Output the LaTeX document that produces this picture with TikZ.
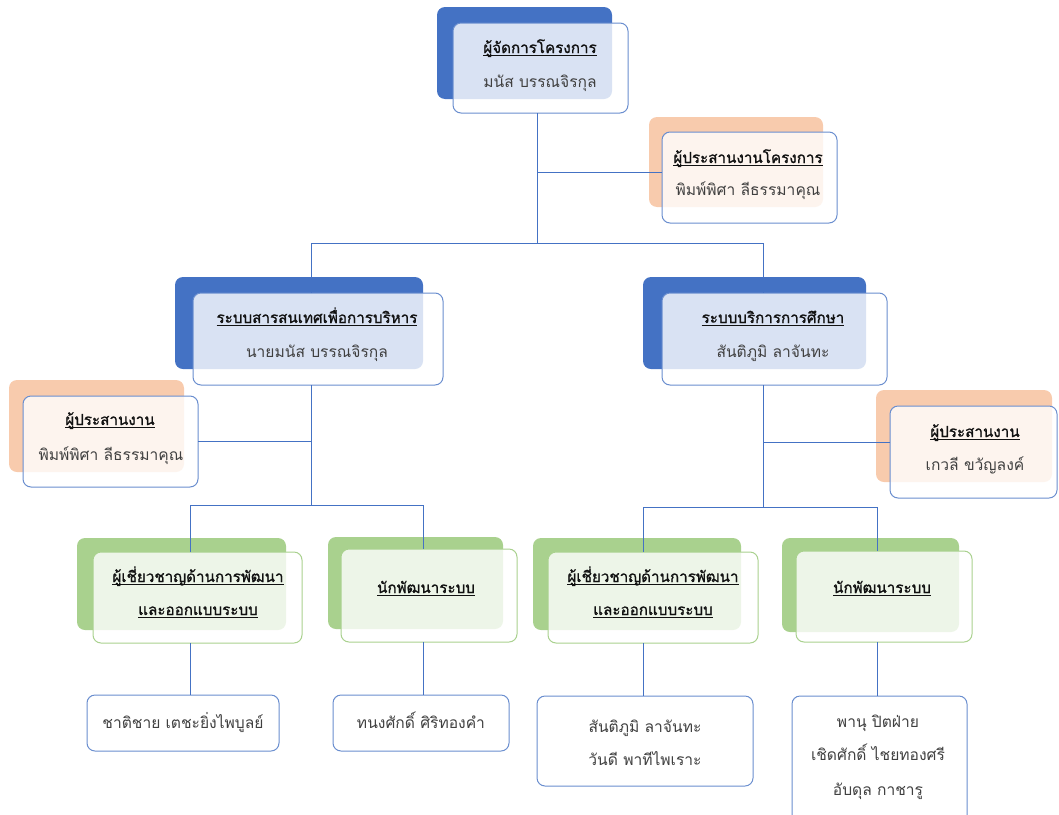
\documentclass[tikz,border=0pt]{standalone}
\usepackage{fontspec}
\newfontfamily\thai[Script=Thai]{Loma}
\newfontfamily\thaihead[Script=Thai,FakeBold=1.2]{Loma}
\definecolor{accent}{HTML}{4472C4}
\definecolor{rim}{HTML}{6A8ECF}
\definecolor{peach}{HTML}{F8CBAD}
\definecolor{leaf}{HTML}{A9D18E}
\definecolor{ink}{HTML}{404040}
\definecolor{head}{HTML}{111111}
% underline at a fixed depth below the baseline
\newcommand\thaiul[1]{\setbox0\hbox{#1}\rlap{\rule[-3pt]{\wd0}{0.9pt}}\box0}
\begin{document}
\begin{tikzpicture}[x=1pt,y=-1pt,
  card/.style={rounded corners=8pt, inner sep=0pt, outer sep=0pt, line width=1pt},
  backblue/.style={card, fill=accent},
  backpeach/.style={card, fill=peach},
  backleaf/.style={card, fill=leaf},
  front/.style={card, fill=white, fill opacity=0.8, draw opacity=1, draw=rim},
  frontleaf/.style={front, draw=leaf},
  plain/.style={card, fill=white, draw=rim},
  link/.style={draw=accent, line width=1pt},
  title/.style={anchor=base, inner sep=0pt, text=head, font=\thaihead\fontsize{15.2}{18}\selectfont},
  person/.style={anchor=base, inner sep=0pt, text=ink, font=\thai\fontsize{15.6}{18}\selectfont}
]
\clip (0,0) rectangle (1059,814);

% ---------- cards: solid back panel + translucent front panel ----------
\node[backblue,  minimum width=175pt, minimum height=92pt] (pm-b) at (524.5,53) {};
\node[front,     minimum width=175pt, minimum height=90pt] (pm)   at (540.5,68) {};

\node[backpeach, minimum width=174pt, minimum height=90pt] (pc-b) at (736,162) {};
\node[front,     minimum width=175pt, minimum height=91pt] (pc)   at (749.5,177.5) {};

\node[backblue,  minimum width=248pt, minimum height=92pt] (im-b) at (299,323) {};
\node[front,     minimum width=250pt, minimum height=92pt] (im)   at (318,339) {};

\node[backblue,  minimum width=223pt, minimum height=92pt] (es-b) at (754.5,323) {};
\node[front,     minimum width=225pt, minimum height=92pt] (es)   at (774.5,339) {};

\node[backpeach, minimum width=175pt, minimum height=92pt] (lc-b) at (96.5,426) {};
\node[front,     minimum width=175pt, minimum height=91pt] (lc)   at (110.5,441.5) {};

\node[backpeach, minimum width=176pt, minimum height=92pt] (rc-b) at (964,436) {};
\node[front,     minimum width=167pt, minimum height=92pt] (rc)   at (973.5,452) {};

\node[backleaf,  minimum width=209pt, minimum height=92pt] (gl1-b) at (181.5,584) {};
\node[frontleaf, minimum width=209pt, minimum height=91pt] (gl1)   at (197.5,597.5) {};

\node[backleaf,  minimum width=175pt, minimum height=92pt] (gl2-b) at (415.5,583) {};
\node[frontleaf, minimum width=176pt, minimum height=93pt] (gl2)   at (429,595.5) {};

\node[backleaf,  minimum width=208pt, minimum height=92pt] (gr1-b) at (637,584) {};
\node[frontleaf, minimum width=210pt, minimum height=91pt] (gr1)   at (653,597.5) {};

\node[backleaf,  minimum width=177pt, minimum height=94pt] (gr2-b) at (870.5,585) {};
\node[frontleaf, minimum width=176pt, minimum height=91pt] (gr2)   at (884,596.5) {};

% ---------- member boxes ----------
\node[plain, minimum width=192pt, minimum height=56pt]  (b1) at (183,723) {};
\node[plain, minimum width=176pt, minimum height=56pt]  (b2) at (421,723) {};
\node[plain, minimum width=216pt, minimum height=90pt]  (b3) at (645,741) {};
\node[plain, minimum width=175pt, minimum height=134pt] (b4) at (879.5,763) {};

% ---------- connectors ----------
\coordinate (hub)   at (537,243);
\coordinate (pc-in) at (662,172);
\coordinate (busL)  at (311,243);
\coordinate (busR)  at (763,243);
\coordinate (subL)  at (311,505);
\coordinate (sL1)   at (190,505);
\coordinate (sL2)   at (423,505);
\coordinate (subR)  at (763,507);
\coordinate (sR1)   at (643,507);
\coordinate (sR2)   at (877,507);
\coordinate (rc-in) at (890,442);

\draw[link] (hub |- pm.south) -- (hub);
\draw[link] (pc-in) -- (pc-in -| hub);
\draw[link] (busL |- im.north) -- (busL) -- (busR) -- (busR |- es.north);

\draw[link] (subL |- im.south) -- (subL);
\draw[link] (lc.east) -- (lc.east -| subL);
\draw[link] (sL1 |- gl1.north) -- (sL1) -- (sL2) -- (sL2 |- gl2.north);
\draw[link] (sL1 |- gl1.south) -- (sL1 |- b1.north);
\draw[link] (sL2 |- gl2.south) -- (sL2 |- b2.north);

\draw[link] (subR |- es.south) -- (subR);
\draw[link] (rc-in) -- (rc-in -| subR);
\draw[link] (sR1 |- gr1.north) -- (sR1) -- (sR2) -- (sR2 |- gr2.north);
\draw[link] (sR1 |- gr1.south) -- (sR1 |- b3.north);
\draw[link] (sR2 |- gr2.south) -- (sR2 |- b4.north);

% ---------- labels ----------
\node[title]  (pm-t) at (540,53) {\thaiul{ผู้จัดการโครงการ}};
\node[person] (pm-n) at (540,87) {มนัส บรรณจิรกุล};

\node[title]  (pc-t) at (748,163) {\thaiul{ผู้ประสานงานโครงการ}};
\node[person] (pc-n) at (748,195) {พิมพ์พิศา ลีธรรมาคุณ};

\node[title]  (im-t) at (317,323) {\thaiul{ระบบสารสนเทศเพื่อการบริหาร}};
\node[person] (im-n) at (317,357) {นายมนัส บรรณจิรกุล};

\node[title]  (es-t) at (773,323) {\thaiul{ระบบบริการการศึกษา}};
\node[person] (es-n) at (773,357) {สันติภูมิ ลาจันทะ};

\node[title]  (lc-t) at (110,425) {\thaiul{ผู้ประสานงาน}};
\node[person] (lc-n) at (111,460) {พิมพ์พิศา ลีธรรมาคุณ};

\node[title]  (rc-t) at (975,437) {\thaiul{ผู้ประสานงาน}};
\node[person] (rc-n) at (975,470) {เกวลี ขวัญลงค์};

\node[title]  (gl1-t) at (198,582) {\thaiul{ผู้เชี่ยวชาญด้านการพัฒนา}};
\node[title]  (gl1-u) at (198,615) {\thaiul{และออกแบบระบบ}};
\node[title]  (gl2-t) at (426,593) {\thaiul{นักพัฒนาระบบ}};

\node[title]  (gr1-t) at (653,582) {\thaiul{ผู้เชี่ยวชาญด้านการพัฒนา}};
\node[title]  (gr1-u) at (653,615) {\thaiul{และออกแบบระบบ}};
\node[title]  (gr2-t) at (882,593) {\thaiul{นักพัฒนาระบบ}};

\node[person] (b1-n) at (183,728) {ชาติชาย เตชะยิ่งไพบูลย์};
\node[person] (b2-n) at (421,728) {ทนงศักดิ์ ศิริทองคำ};
\node[person] (b3-n) at (645,732) {สันติภูมิ ลาจันทะ};
\node[person] (b3-m) at (645,765) {วันดี พาทีไพเราะ};
\node[person] (b4-n) at (878,727) {พานุ ปิตฝ่าย};
\node[person] (b4-m) at (878,760) {เชิดศักดิ์ ไชยทองศรี};
\node[person] (b4-o) at (878,795) {อับดุล กาชารู};
\end{tikzpicture}
\end{document}
